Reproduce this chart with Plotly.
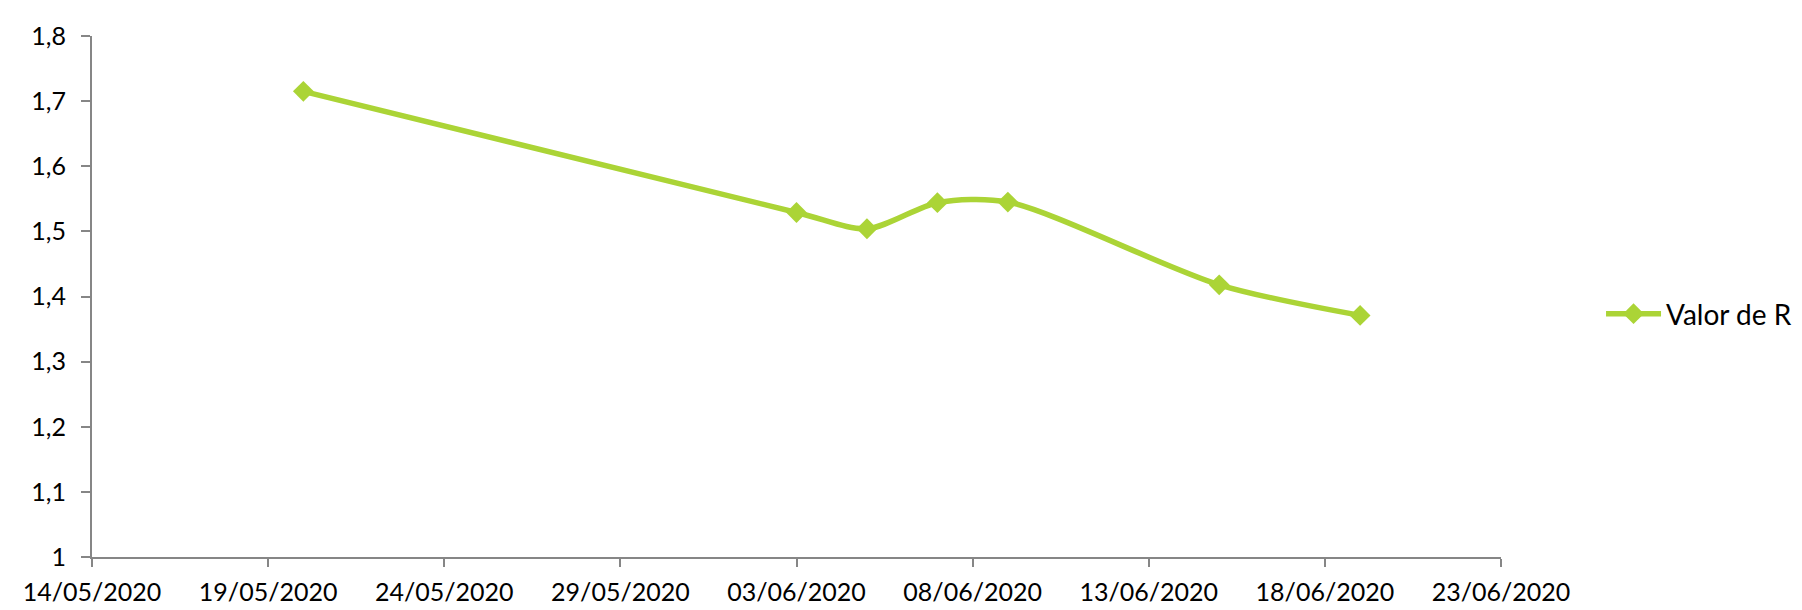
import plotly.graph_objects as go

# Data
dates = ["2020-05-20", "2020-06-03", "2020-06-05", "2020-06-07",
         "2020-06-09", "2020-06-15", "2020-06-19"]
r_values = [1.715, 1.529, 1.504, 1.544, 1.545, 1.418, 1.371]
series_name = "Valor de R"

y_tick_vals = [1.0, 1.1, 1.2, 1.3, 1.4, 1.5, 1.6, 1.7, 1.8]
y_tick_text = ["1", "1,1", "1,2", "1,3", "1,4", "1,5", "1,6", "1,7", "1,8"]
x_range = ["2020-05-14", "2020-06-23"]

GREEN = "#ABD436"
AXIS = "#868686"
FONT = "Lato, 'Open Sans', sans-serif"

fig = go.Figure()
fig.add_trace(go.Scatter(
    x=dates, y=r_values, name=series_name,
    mode="lines+markers",
    line=dict(color=GREEN, width=5.5, shape="spline", smoothing=0.8),
    marker=dict(symbol="diamond", size=16, color=GREEN),
    showlegend=True,
))

fig.update_layout(
    width=1802, height=610,
    margin=dict(l=84, r=309, t=22, b=50),
    paper_bgcolor="white", plot_bgcolor="white",
    font=dict(family=FONT, size=25, color="#000000"),
    separators=", ",
    showlegend=True,
    legend=dict(x=1.071, y=0.4665, xanchor="left", yanchor="middle",
                font=dict(size=28, family=FONT), bgcolor="rgba(0,0,0,0)",
                itemwidth=55),
    xaxis=dict(
        type="date", range=x_range, dtick=5 * 86400000, tick0="2020-05-14",
        tickformat="%d/%m/%Y", showgrid=False, zeroline=False,
        showline=True, linecolor=AXIS, linewidth=2,
        ticks="outside", ticklen=8, tickwidth=2, tickcolor=AXIS,
        ticklabelstandoff=4,
        tickfont=dict(size=25, family=FONT),
    ),
    yaxis=dict(
        range=[1.0, 1.8], tickvals=y_tick_vals, ticktext=y_tick_text,
        showgrid=False, zeroline=False,
        showline=True, linecolor=AXIS, linewidth=2,
        ticks="outside", ticklen=9, tickwidth=2, tickcolor=AXIS,
        ticklabelstandoff=10,
        tickfont=dict(size=25, family=FONT),
    ),
)

fig.write_html("out.html")
